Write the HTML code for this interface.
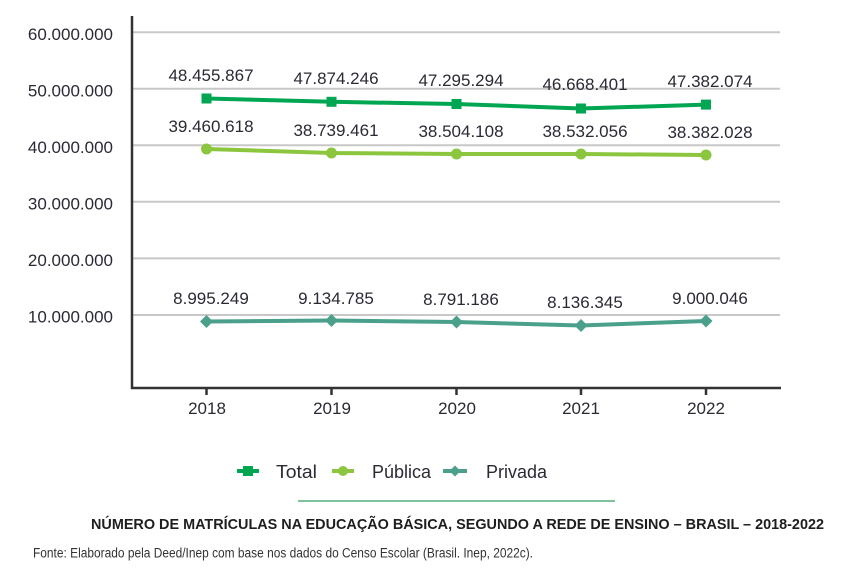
<!DOCTYPE html>
<html><head><meta charset="utf-8"><style>
html,body{margin:0;padding:0;background:#fff;}
svg{display:block;}
text{font-family:"Liberation Sans",sans-serif;fill:#2a2a35;}
</style></head><body>
<svg width="855" height="573" viewBox="0 0 855 573" xmlns="http://www.w3.org/2000/svg">
<g stroke="#c8c8c8" stroke-width="2">
<line x1="132" y1="32.3" x2="780" y2="32.3"/>
<line x1="132" y1="88.8" x2="780" y2="88.8"/>
<line x1="132" y1="145.3" x2="780" y2="145.3"/>
<line x1="132" y1="201.8" x2="780" y2="201.8"/>
<line x1="132" y1="258.4" x2="780" y2="258.4"/>
<line x1="132" y1="315" x2="780" y2="315"/>
</g>
<g stroke="#333" stroke-width="2.5">
<line x1="132" y1="16" x2="132" y2="389"/>
<line x1="131" y1="388" x2="781" y2="388"/>
<line x1="206.5" y1="388" x2="206.5" y2="395"/>
<line x1="331.5" y1="388" x2="331.5" y2="395"/>
<line x1="456.5" y1="388" x2="456.5" y2="395"/>
<line x1="581" y1="388" x2="581" y2="395"/>
<line x1="706" y1="388" x2="706" y2="395"/>
</g>
<g font-size="17" text-anchor="end">
<text x="113" y="40">60.000.000</text>
<text x="113" y="96.5">50.000.000</text>
<text x="113" y="153">40.000.000</text>
<text x="113" y="209.5">30.000.000</text>
<text x="113" y="266">20.000.000</text>
<text x="113" y="322.5">10.000.000</text>
</g>
<g font-size="17" text-anchor="middle">
<text x="207" y="414">2018</text>
<text x="332" y="414">2019</text>
<text x="457" y="414">2020</text>
<text x="581" y="414">2021</text>
<text x="706" y="414">2022</text>
</g>
<!-- Total -->
<polyline points="206.5,98.5 331.5,101.8 456.5,104 581,108.5 706,104.6" fill="none" stroke="#00a651" stroke-width="4"/>
<g fill="#00a651">
<rect x="201.5" y="93.5" width="10" height="10"/>
<rect x="326.5" y="96.8" width="10" height="10"/>
<rect x="451.5" y="99" width="10" height="10"/>
<rect x="576" y="103.5" width="10" height="10"/>
<rect x="701" y="99.6" width="10" height="10"/>
</g>
<!-- Publica -->
<polyline points="206.5,149 331.5,153 456.5,154 581,154 706,155" fill="none" stroke="#8cc63f" stroke-width="4"/>
<g fill="#8cc63f">
<circle cx="206.5" cy="149" r="5.5"/>
<circle cx="331.5" cy="153" r="5.5"/>
<circle cx="456.5" cy="154" r="5.5"/>
<circle cx="581" cy="154" r="5.5"/>
<circle cx="706" cy="155" r="5.5"/>
</g>
<!-- Privada -->
<polyline points="206.5,321.5 331.5,320.5 456.5,322 581,325.5 706,321" fill="none" stroke="#4aa08a" stroke-width="4"/>
<g fill="#4aa08a">
<polygon points="206.5,315 213,321.5 206.5,328 200,321.5"/>
<polygon points="331.5,314 338,320.5 331.5,327 325,320.5"/>
<polygon points="456.5,315.5 463,322 456.5,328.5 450,322"/>
<polygon points="581,319 587.5,325.5 581,332 574.5,325.5"/>
<polygon points="706,314.5 712.5,321 706,327.5 699.5,321"/>
</g>
<g font-size="17" text-anchor="middle">
<text x="211" y="81">48.455.867</text>
<text x="336" y="84">47.874.246</text>
<text x="461" y="86">47.295.294</text>
<text x="585" y="90">46.668.401</text>
<text x="710" y="87">47.382.074</text>
<text x="211" y="132">39.460.618</text>
<text x="336" y="136">38.739.461</text>
<text x="461" y="137">38.504.108</text>
<text x="585" y="137">38.532.056</text>
<text x="710" y="138">38.382.028</text>
<text x="211" y="304">8.995.249</text>
<text x="336" y="304">9.134.785</text>
<text x="461" y="305">8.791.186</text>
<text x="585" y="308">8.136.345</text>
<text x="710" y="304">9.000.046</text>
</g>
<!-- Legend -->
<line x1="237" y1="471" x2="259" y2="471" stroke="#00a651" stroke-width="4"/>
<rect x="243" y="466" width="10" height="10" fill="#00a651"/>
<text x="276" y="478" font-size="18" textLength="41" lengthAdjust="spacingAndGlyphs">Total</text>
<line x1="332" y1="471" x2="354" y2="471" stroke="#8cc63f" stroke-width="4"/>
<circle cx="343" cy="471" r="5" fill="#8cc63f"/>
<text x="372" y="478" font-size="18" textLength="59" lengthAdjust="spacingAndGlyphs">Pública</text>
<line x1="443" y1="471" x2="467" y2="471" stroke="#4aa08a" stroke-width="4"/>
<polygon points="455,465.5 460.5,471 455,476.5 449.5,471" fill="#4aa08a"/>
<text x="486" y="478" font-size="18" textLength="61" lengthAdjust="spacingAndGlyphs">Privada</text>
<line x1="298" y1="501" x2="615" y2="501" stroke="#2e9e5e" stroke-width="1.2"/>
<text x="91" y="529" font-size="15" font-weight="bold" textLength="733" lengthAdjust="spacingAndGlyphs" style="fill:#1e1e1e">NÚMERO DE MATRÍCULAS NA EDUCAÇÃO BÁSICA, SEGUNDO A REDE DE ENSINO – BRASIL – 2018-2022</text>
<text x="33" y="557.5" font-size="13.5" textLength="500" lengthAdjust="spacingAndGlyphs" style="fill:#333">Fonte: Elaborado pela Deed/Inep com base nos dados do Censo Escolar (Brasil. Inep, 2022c).</text>
</svg>
</body></html>
